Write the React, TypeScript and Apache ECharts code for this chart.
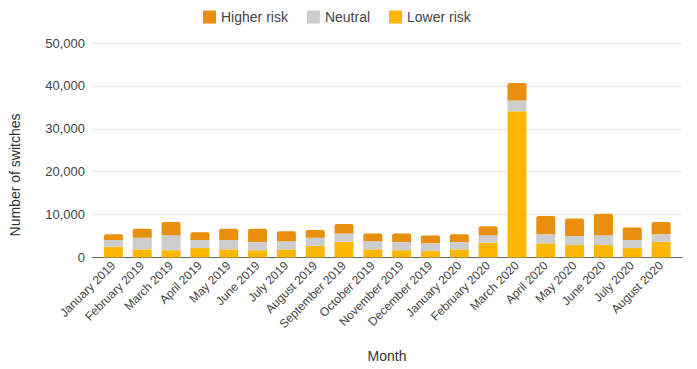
import React, { useEffect, useRef } from "react";
import * as echarts from "echarts";

const months = [
  "January 2019", "February 2019", "March 2019", "April 2019", "May 2019", "June 2019",
  "July 2019", "August 2019", "September 2019", "October 2019", "November 2019", "December 2019",
  "January 2020", "February 2020", "March 2020", "April 2020", "May 2020", "June 2020",
  "July 2020", "August 2020",
];
const lowerRisk = [2500, 1900, 1700, 2200, 1900, 1700, 1900, 2700, 3700, 1900, 1700, 1500, 1900, 3500, 34100, 3300, 2900, 2900, 2200, 3700];
const neutral = [1600, 2700, 3500, 1900, 2200, 1900, 1900, 1900, 1900, 1900, 1900, 1800, 1700, 1700, 2500, 2100, 2100, 2300, 1900, 1700];
const higherRisk = [1300, 2100, 3100, 1800, 2600, 3100, 2300, 1800, 2200, 1800, 2000, 1800, 1800, 2100, 4100, 4300, 4100, 5000, 2900, 2900];
const yTicks = { min: 0, max: 50000, interval: 10000 };

const COLORS = { higher: "#EA8E0D", neutral: "#CDCDCD", lower: "#FBB704" };
const FONT = "Liberation Sans, Arial, sans-serif";

export default function App() {
  const ref = useRef<HTMLDivElement>(null);
  useEffect(() => {
    if (!ref.current) return;
    const chart = echarts.init(ref.current, null, { renderer: "svg" });
    const gridTop = 43;
    const gridBottom = 111.5;
    chart.setOption({
      animation: false,
      backgroundColor: "#ffffff",
      textStyle: { fontFamily: FONT },
      legend: {
        data: ["Higher risk", "Neutral", "Lower risk"],
        left: 198,
        top: 5,
        icon: "rect",
        itemWidth: 13,
        itemHeight: 13,
        itemGap: 19,
        textStyle: { fontSize: 14, color: "#444", fontFamily: FONT },
      },
      grid: [
        { left: 92, right: 15, top: gridTop, bottom: gridBottom },
        { left: 99, right: 21.5, top: gridTop, bottom: gridBottom },
      ],
      xAxis: [
        {
          gridIndex: 0,
          type: "value",
          min: 0,
          max: 1,
          axisLine: { show: true, lineStyle: { color: "#666", width: 1 } },
          axisTick: { show: false },
          axisLabel: { show: false },
          splitLine: { show: false },
        },
        {
          gridIndex: 1,
          type: "category",
          data: months,
          axisLine: { show: false },
          axisTick: { show: false },
          axisLabel: {
            rotate: 45,
            margin: 6,
            interval: 0,
            fontSize: 12,
            color: "#444",
            fontFamily: FONT,
          },
        },
      ],
      yAxis: [
        {
          gridIndex: 0,
          type: "value",
          min: yTicks.min,
          max: yTicks.max,
          interval: yTicks.interval,
          axisLine: { show: false },
          axisTick: { show: false },
          axisLabel: {
            fontSize: 13,
            color: "#444",
            margin: 7,
            fontFamily: FONT,
            formatter: (v: number) => v.toLocaleString("en-US"),
          },
          splitLine: { lineStyle: { color: "#e6e6e6", width: 1 } },
        },
        {
          gridIndex: 1,
          type: "value",
          min: yTicks.min,
          max: yTicks.max,
          interval: yTicks.interval,
          show: false,
          splitLine: { show: false },
        },
      ],
      series: [
        {
          name: "Lower risk",
          type: "bar",
          stack: "total",
          xAxisIndex: 1,
          yAxisIndex: 1,
          barWidth: 19,
          data: lowerRisk,
          itemStyle: { color: COLORS.lower },
        },
        {
          name: "Neutral",
          type: "bar",
          stack: "total",
          xAxisIndex: 1,
          yAxisIndex: 1,
          barWidth: 19,
          data: neutral,
          itemStyle: { color: COLORS.neutral },
        },
        {
          name: "Higher risk",
          type: "bar",
          stack: "total",
          xAxisIndex: 1,
          yAxisIndex: 1,
          barWidth: 19,
          data: higherRisk,
          itemStyle: { color: COLORS.higher, borderRadius: [2, 2, 0, 0] },
        },
      ],
      graphic: [
        {
          type: "text",
          x: 15,
          y: 175,
          rotation: Math.PI / 2,
          style: {
            text: "Number of switches",
            fontSize: 14,
            fill: "#333",
            fontFamily: FONT,
            align: "center",
            verticalAlign: "middle",
          },
        },
        {
          type: "text",
          x: 387,
          y: 356,
          style: {
            text: "Month",
            fontSize: 14,
            fill: "#333",
            fontFamily: FONT,
            align: "center",
            verticalAlign: "middle",
          },
        },
      ],
    });
    return () => chart.dispose();
  }, []);
  return (
    <div
      ref={ref}
      style={{ position: "fixed", left: 0, top: 0, width: 697, height: 369 }}
    />
  );
}
